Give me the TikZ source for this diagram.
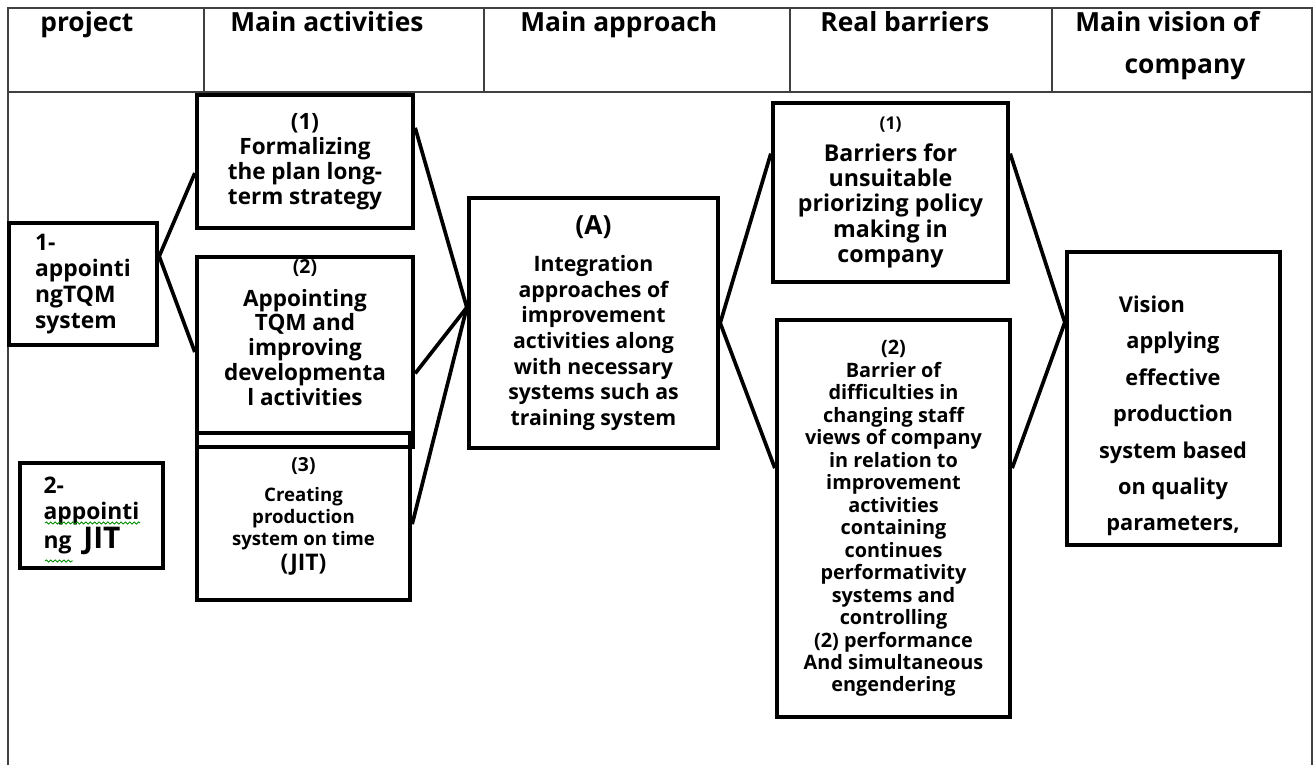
\documentclass[tikz,border=0pt]{standalone}
\usepackage{fontspec}
\setmainfont{Open Sans}
\usetikzlibrary{decorations.pathmorphing}
\newcommand{\fsz}[2]{\fontsize{#1}{#2}\selectfont}
\tikzset{
	grid/.style={draw=black!75, line width=1.1pt},
	head/.style={anchor=base west, inner sep=0pt, font=\bfseries\fsz{15}{18}},
	stage/.style={draw, rectangle, line width=2.5pt, inner sep=0pt, align=center},
	link/.style={line width=2.1pt},
	% spelling squiggle under a word
	squiggle/.style={draw=green!55!black, line width=0.5pt, decorate, decoration={snake, amplitude=0.6pt, segment length=2.5pt}},
}
\begin{document}
\begin{tikzpicture}[x=0.02cm, y=-0.02cm]
	\useasboundingbox (0,0) rectangle (1314,765);
	
	% table frame and header row
	\draw[grid] (8,765) -- (8,8) -- (1312,8) -- (1312,765);
	\draw[grid] (8,92) -- (1312,92);
	\foreach \x in {204,484,790,1052}
		\draw[grid] (\x,8) -- (\x,92);
	
	\node (hproject) [head] at (40,31) {project};
	\node (hactivity) [head] at (230,31) {Main activities};
	\node (happroach) [head] at (520,31) {Main approach};
	\node (hbarrier) [head] at (820,31) {Real barriers};
	\node (hvision) [head] at (1075,31) {Main vision of};
	\node (hcompany) [head, anchor=base] at (1185,73) {company};
	
	% projects
	\node (p1) [stage, align=left, minimum width=2.96cm, minimum height=2.44cm, font=\bfseries\fsz{13}{14.9}] at (83,284) {1-\\appointi\\ngTQM\\system};
	\node (p2) [stage, align=left, minimum width=2.86cm, minimum height=2.1cm, font=\bfseries\fsz{13}{14.9}] at (91.5,515.5) {2-\\appointi\\ng\ \ {\fsz{17}{17}JIT}};
	\coordinate (sq1) at (45,523);
	\coordinate (sq2) at (140,523);
	\coordinate (sq3) at (45,561);
	\coordinate (sq4) at (73,561);
	\draw[squiggle] (sq1) -- (sq2);
	\draw[squiggle] (sq3) -- (sq4);
	
	% main activities
	\node (a1) [stage, minimum width=4.32cm, minimum height=2.66cm, font=\bfseries\fsz{12.8}{14.2}] at (305,161.5) {(1)\\Formalizing\\the plan long-\\term strategy};
	\node (a2) [stage, minimum width=4.32cm, minimum height=3.8cm, font=\bfseries\fsz{12.8}{14.2}] at (305,352) {{\fsz{11}{12}(2)}\\[4.5pt]Appointing\\TQM and\\improving\\developmenta\\l activities\\[8pt]};
	\node (a3) [stage, minimum width=4.26cm, minimum height=3.34cm, font=\bfseries\fsz{10.6}{12.5}] at (303.5,516.5) {{\fsz{11}{12}(3)}\\[4.5pt]Creating\\production\\system on time\\[1.5pt]{\fsz{13}{14}(JIT)}};
	
	% main approach
	\node (main) [stage, minimum width=4.98cm, minimum height=5cm, font=\bfseries\fsz{12.1}{14.6}] at (593.5,323) {{\fsz{15}{18}(A)}\\[6.4pt]Integration\\approaches of\\improvement\\activities along\\with necessary\\systems such as\\training system};
	
	% real barriers
	\node (b1) [stage, minimum width=4.7cm, minimum height=3.58cm, font=\bfseries\fsz{13.2}{14.4}] at (890.5,192.5) {{\fsz{10}{12}(1)}\\[3.5pt]Barriers for\\unsuitable\\priorizing policy\\making in\\company};
	\node (b2) [stage, minimum width=4.66cm, minimum height=7.94cm, font=\bfseries\fsz{11.3}{12.8}] at (893.5,518.5) {(2)\\Barrier of\\difficulties in\\changing staff\\views of company\\in relation to\\improvement\\activities\\containing\\continues\\performativity\\systems and\\controlling\\(2) performance\\And simultaneous\\engendering};
	
	% vision
	\node (vision) [stage, minimum width=4.26cm, minimum height=5.86cm] at (1173.5,398.5) {};
	\node (vtext) [inner sep=0pt, align=center, font=\bfseries\fsz{12.4}{20.7}] at (1173,416) {Vision\hspace*{24pt}\\applying\\effective\\production\\system based\\on quality\\parameters,};
	
	\begin{scope}[link]
		\draw (p1.20) -- (a1.186);
		\draw (p1.20) -- (a2.west);
		\draw (a1.17) -- (main.173);
		\draw (a2.-11) -- (main.173);
		\draw (a3.356) -- (main.173);
		\draw (main.east) -- (b1.162);
		\draw (main.east) -- (b2.157);
		\draw (b1.18) -- (vision.145);
		\draw (b2.23) -- (vision.145);
	\end{scope}
	
\end{tikzpicture}
\end{document}
